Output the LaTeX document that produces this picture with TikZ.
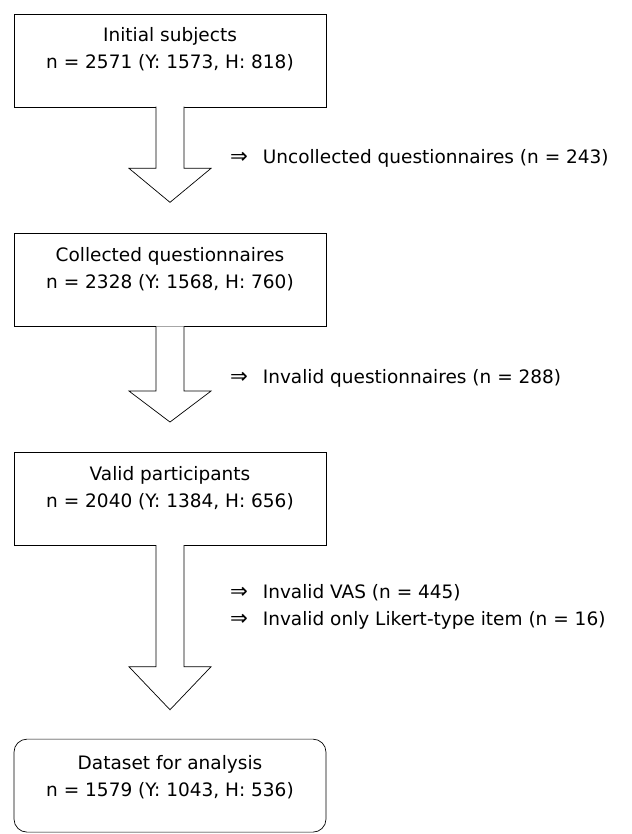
\documentclass[tikz,border=0pt]{standalone}
\usepackage{fontspec}
\setmainfont{DejaVu Sans}
\usepackage{tikz}
\usetikzlibrary{positioning}

\tikzset{
  stage/.style={draw,line width=0.7pt,minimum width=312pt,minimum height=93pt,inner sep=0pt},
  stagetext/.style={align=center,inner sep=0pt,font=\fontsize{18.5}{27}\selectfont},
  excl/.style={anchor=west,inner sep=0pt,font=\fontsize{18.5}{22}\selectfont},
  flow/.style={draw,fill=white,line width=0.7pt}
}
% block arrow hanging from a box: #1 box, #2 shaft length, #3 tip depth
\newcommand{\flowarrow}[3]{%
  \filldraw[flow] ([xshift=-14pt,yshift=0.6pt]#1.south) -- ([xshift=-14pt,yshift=-#2pt]#1.south)
    -- ([xshift=-41pt,yshift=-#2pt]#1.south) -- ([yshift=-#3pt]#1.south)
    -- ([xshift=41pt,yshift=-#2pt]#1.south) -- ([xshift=14pt,yshift=-#2pt]#1.south)
    -- ([xshift=14pt,yshift=0.6pt]#1.south);}

\begin{document}
\begin{tikzpicture}[x=1pt,y=-1pt]
        \useasboundingbox (0,0) rectangle (631,834);
        % Boxes
        \node[stage] (init) at (170,60.5) {};
        \node[stage,below=126pt of init] (coll) {};
        \node[stage,below=125pt of coll] (valid) {};
        \node[stage,rounded corners=13pt,below=193pt of valid] (data) {};
        % Box texts
        \node[stagetext,below=14pt of init.north] (initT) {Initial subjects\\n = 2571 (Y: 1573, H: 818)};
        \node[stagetext,below=14pt of coll.north] (collT) {Collected questionnaires\\n = 2328 (Y: 1568, H: 760)};
        \node[stagetext,below=14pt of valid.north] (validT) {Valid participants\\n = 2040 (Y: 1384, H: 656)};
        \node[stagetext,below=16pt of data.north] (dataT) {Dataset for analysis\\n = 1579 (Y: 1043, H: 536)};
        % Arrows
        \flowarrow{init}{61}{95}
        \flowarrow{coll}{64}{95}
        \flowarrow{valid}{121}{164}
        % Exclusions
        \node[excl] (ex1) at (230,158) {\scalebox{1.15}{⇒}\hspace{0.8em}Uncollected questionnaires (n = 243)};
        \node[excl] (ex2) at (230,378) {\scalebox{1.15}{⇒}\hspace{0.8em}Invalid questionnaires (n = 288)};
        \node[excl] (ex3) at (230,593) {\scalebox{1.15}{⇒}\hspace{0.8em}Invalid VAS (n = 445)};
        \node[excl] (ex4) at (230,620) {\scalebox{1.15}{⇒}\hspace{0.8em}Invalid only Likert-type item (n = 16)};
      \end{tikzpicture}
\end{document}
